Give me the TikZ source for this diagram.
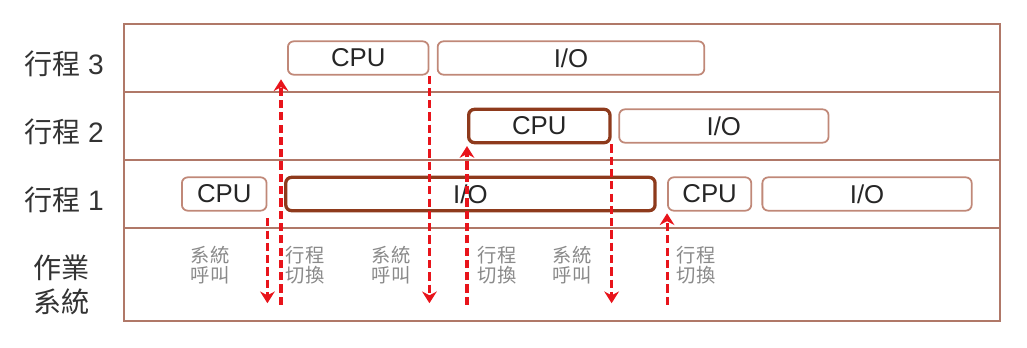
\documentclass[tikz,border=0pt]{standalone}
\usepackage{fontspec}
\setmainfont{Liberation Sans}
\newfontfamily\cjk{Noto Sans CJK TC}
\usetikzlibrary{
	positioning,
	arrows.meta
}
\definecolor{framecolor}{HTML}{B07868}
\definecolor{boxcolor}{HTML}{C08878}
\definecolor{busycolor}{HTML}{8E3A1C}
\definecolor{switchcolor}{HTML}{E8141B}
\definecolor{labelcolor}{HTML}{333333}
\definecolor{notecolor}{HTML}{8A8A8A}
\tikzset{
	frame/.style={
		draw=framecolor,
		line width=1.5pt
	},
	taskbox/.style={
		draw=boxcolor,
		line width=1.5pt,
		rounded corners=5pt,
		minimum height=1.0cm,
		inner sep=0pt,
		text=black!85,
		font=\fontsize{22}{26}\selectfont
	},
	busybox/.style={
		taskbox,
		draw=busycolor,
		line width=2.8pt
	},
	rowlabel/.style={
		text=labelcolor,
		align=center,
		font=\fontsize{24}{29}\selectfont
	},
	oslabel/.style={
		text=notecolor,
		align=center,
		font=\cjk\fontsize{16.5}{17}\selectfont
	},
	swarrow/.style={
		-{Stealth[length=10pt,width=12.5pt]},
		dash pattern=on 7pt off 3.5pt,
		color=switchcolor,
		line width=2.6pt,
		shorten >=1.5pt
	}
}

\begin{document}
\begin{tikzpicture}[x=0.03cm, y=-0.03cm]
	\useasboundingbox (0,0) rectangle (1027,348);
	
	% Frame and rows
	\draw[frame] (124,24) rectangle (1000,321);
	\foreach \y in {92,160,228}
		\draw[frame] (124,\y) -- (1000,\y);
	
	% Row labels
	\node[rowlabel] (lblThree) at (64,64) {{\cjk 行程} 3};
	\node[rowlabel] (lblTwo) at (64,132) {{\cjk 行程} 2};
	\node[rowlabel] (lblOne) at (64,200) {{\cjk 行程} 1};
	\node[rowlabel, font=\cjk\fontsize{24}{29}\selectfont] (lblOS) at (62,285) {作業\\系統};
	
	% Process 3
	\node[taskbox, minimum width=4.22cm, anchor=west] (cpuThree) at (287,58) {CPU};
	\node[taskbox, minimum width=8.0cm, right=0.22cm of cpuThree] (ioThree) {I/O};
	
	% Process 2
	\node[busybox, minimum width=4.24cm, anchor=west] (cpuTwo) at (467,126) {CPU};
	\node[taskbox, minimum width=6.28cm, right=0.2cm of cpuTwo] (ioTwo) {I/O};
	
	% Process 1
	\node[taskbox, minimum width=2.54cm, anchor=west] (cpuOneA) at (181,194) {CPU};
	\node[busybox, minimum width=11.08cm, right=0.5cm of cpuOneA] (ioOneA) {I/O};
	\node[taskbox, minimum width=2.5cm, right=0.31cm of ioOneA] (cpuOneB) {CPU};
	\node[taskbox, minimum width=6.28cm, right=0.28cm of cpuOneB] (ioOneB) {I/O};
	
	% Operating system
	\node[oslabel] (callA) at (210,265) {系統\\呼叫};
	\node[oslabel] (swA) at (305,265) {行程\\切換};
	\node[oslabel] (callB) at (391,265) {系統\\呼叫};
	\node[oslabel] (swB) at (497,265) {行程\\切換};
	\node[oslabel] (callC) at (572,265) {系統\\呼叫};
	\node[oslabel] (swC) at (696,265) {行程\\切換};
	\coordinate (osfloor) at (0,305);
	
	% Arrows
	% system calls (down)
	\draw[swarrow] ([yshift=-0.2cm]cpuOneA.south east) -- (cpuOneA.south east |- osfloor);
	\draw[swarrow] (cpuThree.south east) -- (cpuThree.south east |- osfloor);
	\draw[swarrow] (cpuTwo.south east) -- (cpuTwo.south east |- osfloor);
	
	% process switches (up)
	\draw[swarrow] ([xshift=-0.18cm]cpuThree.south west |- osfloor) -- ([xshift=-0.18cm, yshift=-0.06cm]cpuThree.south west);
	\draw[swarrow] (cpuTwo.south west |- osfloor) -- (cpuTwo.south west);
	\draw[swarrow] (cpuOneB.south west |- osfloor) -- (cpuOneB.south west);
	
\end{tikzpicture}
\end{document}
